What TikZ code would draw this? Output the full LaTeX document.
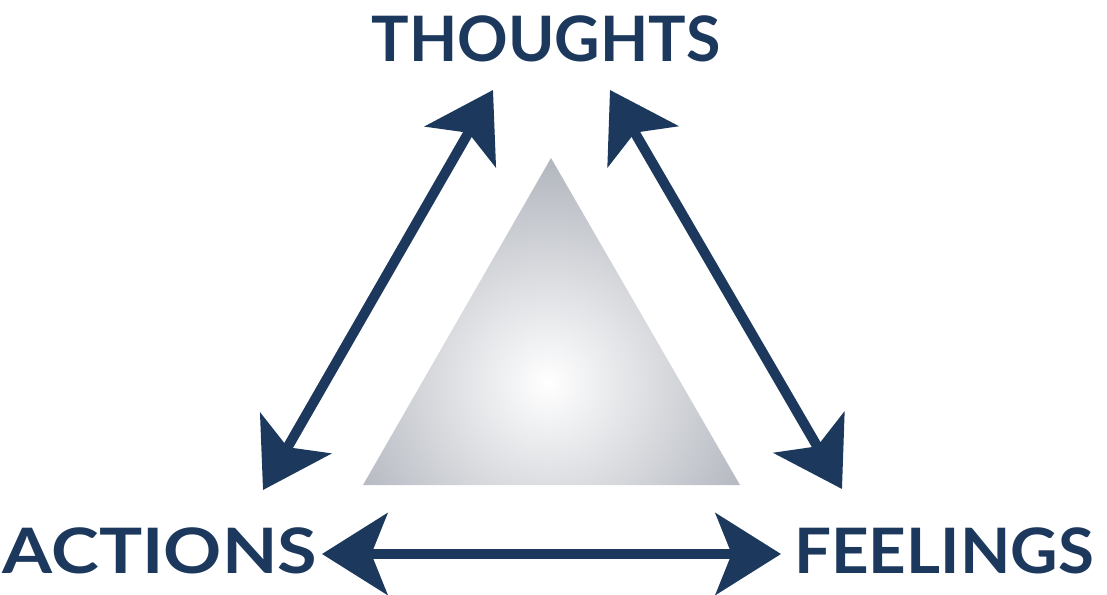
\documentclass[tikz,border=0pt]{standalone}
\usepackage{fontspec}
\setmainfont{Lato}
\usetikzlibrary{arrows.meta}
\definecolor{navy}{RGB}{28,56,92}
\definecolor{trigray}{RGB}{138,144,156}
\begin{document}
\begin{tikzpicture}[x=0.75pt,y=-0.75pt,
  lbl/.style={text=navy, font=\fontsize{47}{50}\selectfont\bfseries, inner sep=0pt, anchor=base},
  arr/.style={draw=navy, line width=7.5pt,
    {Stealth[length=49pt,width=61pt,inset=12pt]}-{Stealth[length=49pt,width=61pt,inset=12pt]}}]
\useasboundingbox (0,0) rectangle (1107,595);
% triangle
\begin{scope}
  \clip (551,158) -- (363,485) -- (740,485) -- cycle;
  \shade[inner color=white, outer color=trigray] (548,383) circle (340);
\end{scope}
% labels
\node[lbl] (thoughts) at (546,62) {THOUGHTS};
\node[lbl] (actions) at (160,573) {\scalebox{1.15}[1]{ACTIONS}};
\node[lbl] (feelings) at (944,573) {\scalebox{1.045}[1]{FEELINGS}};
% arrow ends
\coordinate (t1) at (493,90);
\coordinate (a1) at (263,490);
\coordinate (t2) at (610,90);
\coordinate (f1) at (842,489);
\coordinate (a2) at (322,554);
\coordinate (f2) at (781,554);
\draw[arr] (t1) -- (a1);
\draw[arr] (t2) -- (f1);
\draw[arr] (a2) -- (f2);
\end{tikzpicture}
\end{document}
